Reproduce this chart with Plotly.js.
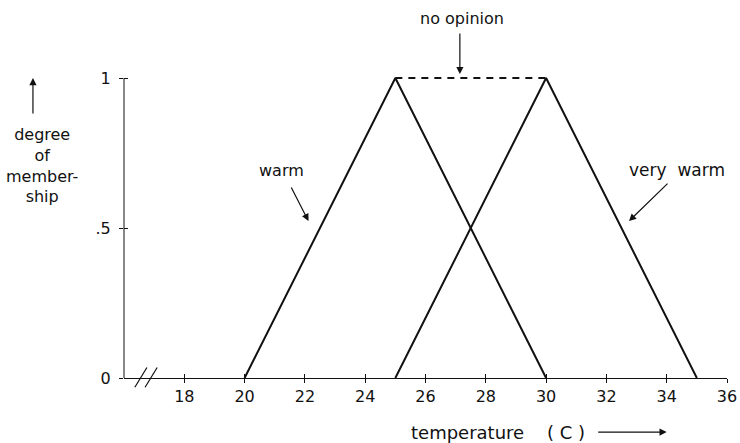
<!DOCTYPE html>
<html>
<head>
<meta charset="utf-8">
<script src="https://cdn.plot.ly/plotly-3.0.1.min.js"></script>
<style>html,body{margin:0;padding:0;background:#fff;}#chart{width:740px;height:443px;}</style>
</head>
<body>
<div id="chart"></div>
<script>
// Data
const warmX = [20, 25, 30];
const warmY = [0, 1, 0];
const veryWarmX = [25, 30, 35];
const veryWarmY = [0, 1, 0];
const noOpinionX = [25, 30];
const noOpinionY = [1, 1];
const xTickVals = [18, 20, 22, 24, 26, 28, 30, 32, 34, 36];
const xTickText = ['18', '20', '22', '24', '26', '28', '30', '32', '34', '36'];
const yTickVals = [0, 0.5, 1];
const yTickText = ['0', '.5', '1'];

const FONT = 'DejaVu Sans, Liberation Sans, sans-serif';
const ink = '#111';

const lineStyle = {color: ink, width: 2};

const traces = [
  {x: warmX, y: warmY, mode: 'lines', line: lineStyle, hoverinfo: 'skip', name: 'warm'},
  {x: veryWarmX, y: veryWarmY, mode: 'lines', line: lineStyle, hoverinfo: 'skip', name: 'very warm'},
  {x: noOpinionX, y: noOpinionY, mode: 'lines', line: {color: ink, width: 2, dash: '7px,6px'},
   hoverinfo: 'skip', name: 'no opinion', xaxis: 'x2', yaxis: 'y2'}
];

const xr = [16, 36];
const yr = [0, 1.03];

const tickFont = {family: FONT, size: 16, color: ink};
const arrowStyle = {arrowhead: 2, arrowsize: 1.2, arrowwidth: 1.2, arrowcolor: ink};
const textBase = {xref: 'paper', yref: 'paper', showarrow: false, xanchor: 'center', yanchor: 'middle'};

const layout = {
  width: 740, height: 443,
  margin: {l: 124, r: 13, t: 69, b: 65},
  paper_bgcolor: '#fff', plot_bgcolor: '#fff',
  showlegend: false,
  font: {family: FONT, size: 16, color: ink},
  xaxis: {
    range: xr, tickvals: xTickVals, ticktext: xTickText,
    ticks: 'outside', ticklen: 4, tickwidth: 1, tickcolor: ink,
    showline: true, linecolor: ink, linewidth: 1,
    showgrid: false, zeroline: false, tickfont: tickFont, fixedrange: true
  },
  yaxis: {
    range: yr, tickvals: yTickVals, ticktext: yTickText,
    ticks: 'outside', ticklen: 4, tickwidth: 1, tickcolor: ink,
    showline: false, showgrid: false, zeroline: false,
    tickfont: tickFont, ticklabelstandoff: 5, fixedrange: true
  },
  xaxis2: {
    overlaying: 'x', range: xr, tickvals: xTickVals, ticks: 'inside', ticklen: 4,
    tickwidth: 1, tickcolor: ink, showticklabels: false, showline: false,
    showgrid: false, zeroline: false, fixedrange: true
  },
  yaxis2: {
    overlaying: 'y', range: yr, tickvals: yTickVals, ticks: 'inside', ticklen: 4,
    tickwidth: 1, tickcolor: ink, showticklabels: false, showline: false,
    showgrid: false, zeroline: false, fixedrange: true
  },
  shapes: [
    // y axis line from 0 to 1
    {type: 'line', xref: 'paper', yref: 'y', x0: 0, x1: 0, y0: 0, y1: 1, line: {color: ink, width: 1}},
    // axis break marks
    {type: 'line', xref: 'paper', yref: 'paper', x0: 0.018, x1: 0.038, y0: -0.03, y1: 0.034, line: {color: ink, width: 1.2}},
    {type: 'line', xref: 'paper', yref: 'paper', x0: 0.035, x1: 0.055, y0: -0.03, y1: 0.034, line: {color: ink, width: 1.2}}
  ],
  annotations: [
    Object.assign({x: 0.56, y: 1.165, text: 'no opinion', font: {size: 16}}, textBase),
    Object.assign({xref: 'x', yref: 'y', x: 27.14, y: 1.013, ax: 0, ay: -42, text: '', showarrow: true}, arrowStyle),
    Object.assign({x: 0.262, y: 0.670, text: 'warm', font: {size: 16}}, textBase),
    Object.assign({xref: 'x', yref: 'y', x: 22.12, y: 0.523, ax: -18, ay: -35, text: '', showarrow: true}, arrowStyle),
    Object.assign({x: 0.917, y: 0.673, text: 'very&nbsp;&nbsp;warm', font: {size: 17}}, textBase),
    Object.assign({xref: 'x', yref: 'y', x: 32.75, y: 0.523, ax: 40, ay: -39, text: '', showarrow: true}, arrowStyle),
    Object.assign({x: -0.136, y: 0.689, text: 'degree<br>of<br>member-<br>ship', align: 'center', font: {size: 16}}, textBase),
    Object.assign({xref: 'paper', yref: 'paper', x: -0.151, y: 0.971, ax: 0, ay: 37, text: '', showarrow: true}, arrowStyle),
    Object.assign({x: 0.62, y: -0.175, text: 'temperature &nbsp;&nbsp;&nbsp;( C )', font: {size: 18}}, textBase),
    Object.assign({xref: 'paper', yref: 'paper', x: 0.900, y: -0.175, ax: -70, ay: 0, text: '', showarrow: true}, arrowStyle)
  ]
};

Plotly.newPlot('chart', traces, layout, {displayModeBar: false, staticPlot: true});
</script>
</body>
</html>
